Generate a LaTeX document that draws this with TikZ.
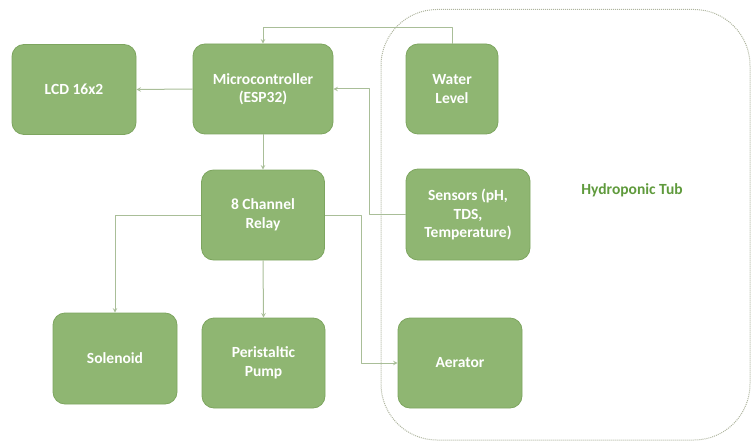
\documentclass[tikz,border=0pt]{standalone}
\usepackage{fontspec}
\setmainfont{Carlito}
\usetikzlibrary{arrows}
\definecolor{boxgreen}{HTML}{8FB672}
\definecolor{boxedge}{HTML}{7DA55F}
\definecolor{wiregreen}{HTML}{A9BE98}
\definecolor{tubedge}{HTML}{AEB49E}
\definecolor{tubtext}{HTML}{5F9A3C}
\begin{document}
\begin{tikzpicture}[x=1pt, y=-1pt, >=stealth, line join=round,
		block/.style={draw=boxedge, line width=0.8pt, fill=boxgreen, rounded corners=12pt,
			text=white, font=\fontsize{15.5}{18.5}\selectfont\bfseries, align=center,
			minimum width=124pt, minimum height=90pt, inner sep=2pt},
		wire/.style={draw=wiregreen, line width=1pt}]
			%% Khung
			\useasboundingbox (0,0) rectangle (752,441);
			%% Bể thủy canh
			\draw [tubedge, densely dotted, line width=1pt, rounded corners=56pt] (381,9.5) rectangle (750,440);
			\node [text=tubtext, font=\fontsize{15.5}{18.5}\selectfont\bfseries] (tub) at (632,190) {Hydroponic Tub};
			%% Các khối
			\node [block] (lcd) at (74,89.5) {LCD 16x2};
			\node [block, minimum width=140pt] (mcu) at (263,89) {Microcontroller\\(ESP32)};
			\node [block, minimum width=92pt] (water) at (452,89) {Water\\Level};
			\node [block, minimum width=123pt] (relay) at (263,215) {8 Channel\\Relay};
			\node [block, minimum height=91pt] (sensor) at (468,214.5) {Sensors (pH,\\TDS,\\Temperature)};
			\node [block, minimum height=91pt] (solenoid) at (115,358.5) {Solenoid};
			\node [block, minimum width=123pt] (pump) at (263.5,363) {Peristaltic\\Pump};
			\node [block] (aerator) at (460,363) {Aerator};
			%% Các đường nối
			\draw [wire, ->] (mcu.west) -- (lcd.east);
			\draw [wire, ->] (water.north) -- ++(0,-16) -| (mcu.north);
			\draw [wire, ->] (sensor.west) -- ++(-36,0) |- (mcu.east);
			\draw [wire, ->] (mcu.south) -- (relay.north);
			\draw [wire, ->] (relay.west) -| (solenoid.north);
			\draw [wire, ->] (relay.south) -- (pump.north);
			\draw [wire, ->] (relay.east) -- ++(37,0) |- (aerator.west);
		\end{tikzpicture}
\end{document}
